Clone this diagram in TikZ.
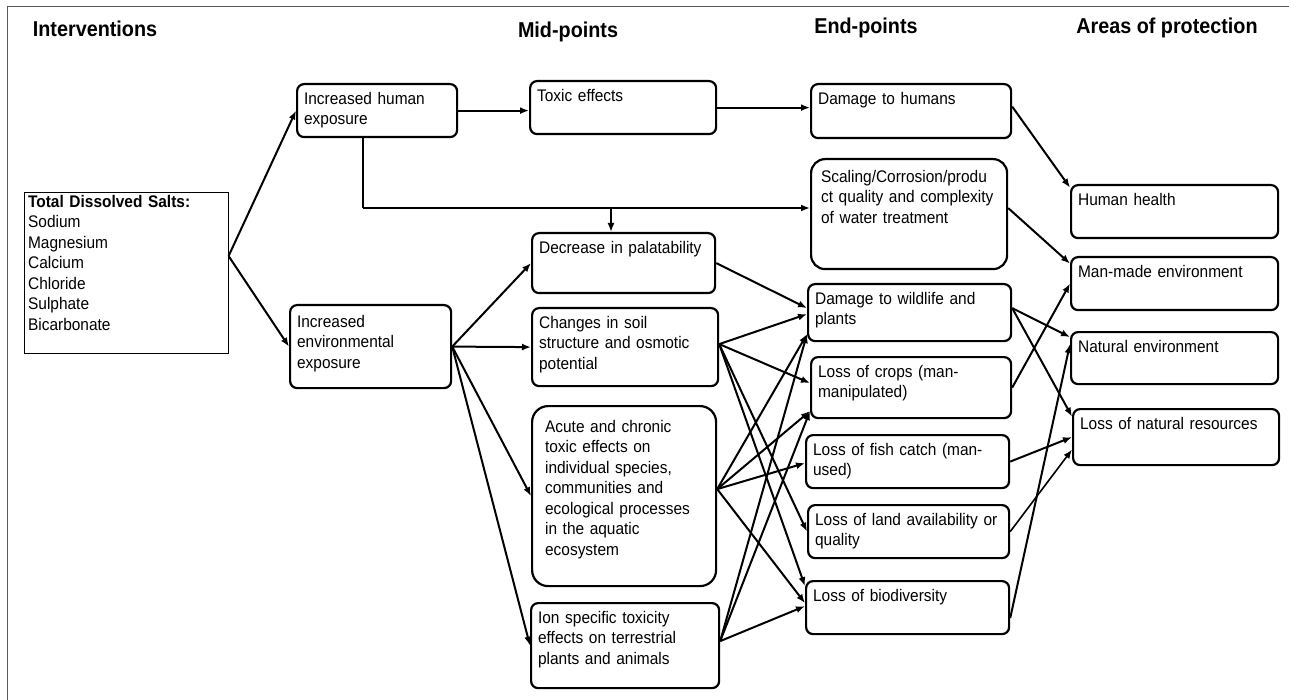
\documentclass[tikz,border=0pt]{standalone}
\usepackage{fontspec}
\setmainfont{Liberation Sans}[FakeStretch=0.92]
\usetikzlibrary{arrows.meta}

\tikzset{
	stage/.style={draw, line width=2.2pt, rounded corners=7pt, anchor=north west,
		align=left, inner xsep=7pt, inner ysep=8pt, text height=12pt,
		font=\fontsize{16.8}{20.5}\selectfont},
	header/.style={font=\fontsize{21.5}{24}\selectfont\bfseries},
	link/.style={line width=2pt, -{Latex[length=9pt,width=7pt]}},
}

\begin{document}
\begin{tikzpicture}[x=1pt, y=-1pt]
	
	\useasboundingbox (0,0) rectangle (1289,700);
	
	% Frame
	\draw[line width=1pt, gray!70!black] (7,700) -- (7,7) -- (1289,7);
	
	% Headers
	\node[header] (hint) at (95,29) {Interventions};
	\node[header] (hmid) at (568,32) {Mid-points};
	\node[header] (hend) at (866,28) {End-points};
	\node[header] (harea) at (1167,28) {Areas of protection};
	
	% Interventions
	\node[stage, draw, line width=1pt, rounded corners=0pt, inner xsep=4pt, inner ysep=3pt,
		text width=196pt, text depth=143pt] (tds) at (23.6,192)
		{\textbf{Total Dissolved Salts:}\\Sodium\\Magnesium\\Calcium\\Chloride\\Sulphate\\Bicarbonate};
	\node[stage, text width=146pt, text depth=25pt] (human) at (296,83) {Increased human\\exposure};
	\node[stage, inner ysep=10pt, text width=147pt, text depth=51pt] (env) at (289,304) {Increased\\environmental\\exposure};
	
	% Mid-points
	\node[stage, text width=172pt, text depth=25pt] (toxic) at (529,80) {Toxic effects};
	\node[stage, text width=169pt, text depth=32pt] (palat) at (531,232) {Decrease in palatability};
	\node[stage, text width=172pt, text depth=50pt] (soil) at (531,307) {Changes in soil\\structure and osmotic\\potential};
	\node[stage, rounded corners=16pt, inner xsep=13pt, inner ysep=14pt, text width=158pt, text depth=140pt] (acute) at (531,405)
		{Acute and chronic\\toxic effects on\\individual species,\\communities and\\ecological processes\\in the aquatic\\ecosystem};
	\node[stage, text width=174pt, text depth=57pt] (ion) at (530,602) {Ion specific toxicity\\effects on terrestrial\\plants and animals};
	
	% End-points
	\node[stage, text width=186pt, text depth=26pt] (dhum) at (810,83) {Damage to humans};
	\node[stage, rounded corners=14pt, inner xsep=10pt, inner ysep=11pt, text width=176pt, text depth=76pt] (scal) at (810,158)
		{Scaling/Corrosion/produ\\ct quality and complexity\\of water treatment};
	\node[stage, text width=189pt, text depth=29pt] (dwild) at (807,283) {Damage to wildlife and\\plants};
	\node[stage, text width=186pt, text depth=33pt] (crops) at (810,356) {Loss of crops (man-\\manipulated)};
	\node[stage, text width=189pt, text depth=25pt] (fish) at (805,434) {Loss of fish catch (man-\\used)};
	\node[stage, text width=187pt, text depth=25pt] (land) at (807,504) {Loss of land availability or\\quality};
	\node[stage, text width=189pt, text depth=25pt] (bio) at (805,580) {Loss of biodiversity};
	
	% Areas of protection
	\node[stage, text width=193pt, text depth=25pt] (hh) at (1070,184) {Human health};
	\node[stage, text width=193pt, text depth=25pt] (manmade) at (1070,256) {Man-made environment};
	\node[stage, text width=193pt, text depth=24pt] (natenv) at (1070,331) {Natural environment};
	\node[stage, text width=192pt, text depth=28pt] (natres) at (1072,408) {Loss of natural resources};
	
	% Arrows interventions
	\coordinate (tdsout) at ([yshift=17pt]tds.east);
	\draw[link] (tdsout) -- (human.west);
	\draw[link] (tdsout) -- (env.west);
	\draw[link] (human.east) -- (human.east -| toxic.west);
	\draw[link] (toxic.east) -- (toxic.east -| dhum.west);
	
	\coordinate (split) at (363,208);
	\coordinate (drop) at (611,208);
	\draw[line width=2pt] (human.south -| split) -- (split);
	\draw[link] (split) -- (split -| scal.west);
	\draw[link] (drop) -- (drop |- palat.north);
	
	\foreach \m in {palat,soil,acute,ion}{
		\draw[link] (env.east) -- (\m.west);
	}
	
	% Arrows mid-points to end-points
	\draw[link] (palat.east) -- ([yshift=4.5pt]dwild.west);
	\foreach \e/\s in {dwild/-1.5, crops/4.5, land/0, bio/21.5}{
		\draw[link] ([yshift=3pt]soil.east) -- ([yshift=\s pt]\e.west);
	}
	\foreach \e/\s in {dwild/-21.5, crops/-23.5, fish/-1.5, bio/4.5}{
		\draw[link] ([yshift=7pt]acute.east) -- ([yshift=\s pt]\e.west);
	}
	\foreach \e/\s in {dwild/-21.5, crops/-23.5, bio/1.5}{
		\draw[link] ([yshift=4.5pt]ion.east) -- ([yshift=\s pt]\e.west);
	}
	
	% Arrows end-points to areas
	\draw[link] ([yshift=4.5pt]dhum.east) -- ([yshift=24pt]hh.west);
	\draw[link] ([yshift=6pt]scal.east) -- ([yshift=20pt]manmade.west);
	\draw[link] ([yshift=4.5pt]dwild.east) -- ([yshift=21pt]natenv.west);
	\draw[link] ([yshift=4.5pt]dwild.east) -- ([yshift=20.5pt]natres.west);
	\draw[link] (crops.east) -- (manmade.west);
	\draw[link] ([yshift=-10.5pt]bio.east) -- ([yshift=14pt]natenv.west);
	\draw[link] (fish.east) -- (natres.west);
	\draw[link, line width=1.6pt] (land.east) -- ([yshift=-12.5pt]natres.west);
	
\end{tikzpicture}
\end{document}
